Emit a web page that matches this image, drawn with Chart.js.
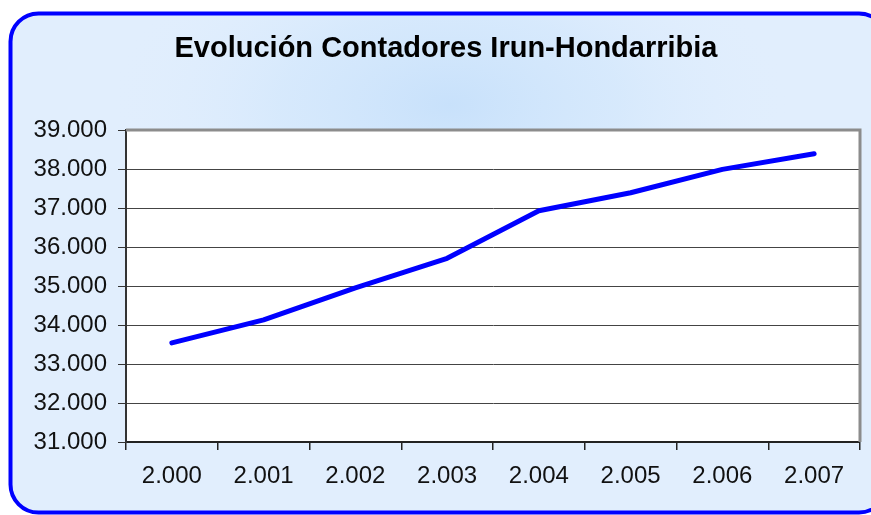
<!DOCTYPE html>
<html lang="es">
<head>
  <meta charset="UTF-8" />
  <title>Evolución Contadores Irun-Hondarribia</title>
  <script src="https://cdn.jsdelivr.net/npm/chart.js"></script>
  <style>
    html, body { margin: 0; padding: 0; background: #fff; }
    canvas { display: block; }
  </style>
</head>
<body>
  <canvas id="grafico" width="871" height="515"></canvas>

  <script>
    const titulo = 'Evolución Contadores Irun-Hondarribia';
    const anios = ['2.000', '2.001', '2.002', '2.003', '2.004', '2.005', '2.006', '2.007'];
    const contadores = [33540, 34130, 34950, 35710, 36930, 37390, 37990, 38390];
    const ejeMin = 31000;
    const ejeMax = 39000;
    const ejePaso = 1000;

    const fuente = '"Liberation Sans", Arial, sans-serif';

    // miles con punto: 31000 -> "31.000"
    function formatoMiles(v) {
      return String(Math.round(v)).replace(/\B(?=(\d{3})+(?!\d))/g, '.');
    }

    // fondo redondeado con borde azul, brillo bajo el titulo y el titulo
    const fondo = {
      id: 'fondo',
      beforeDraw(chart) {
        const ctx = chart.ctx;
        const w = chart.width, h = chart.height;
        ctx.save();
        ctx.fillStyle = '#ffffff';
        ctx.fillRect(0, 0, w, h);

        const x0 = 10.5, y0 = 13.5, x1 = w + 16, y1 = h - 2.5, r = 28;
        ctx.beginPath();
        ctx.moveTo(x0 + r, y0);
        ctx.lineTo(x1 - r, y0);
        ctx.arcTo(x1, y0, x1, y0 + r, r);
        ctx.lineTo(x1, y1 - r);
        ctx.arcTo(x1, y1, x1 - r, y1, r);
        ctx.lineTo(x0 + r, y1);
        ctx.arcTo(x0, y1, x0, y1 - r, r);
        ctx.lineTo(x0, y0 + r);
        ctx.arcTo(x0, y0, x0 + r, y0, r);
        ctx.closePath();

        ctx.fillStyle = '#e1eefd';
        ctx.fill();

        ctx.save();
        ctx.clip();
        ctx.translate(450, 105);
        ctx.scale(1.8, 1);
        const g = ctx.createRadialGradient(0, 0, 0, 0, 0, 190);
        g.addColorStop(0, 'rgba(200, 225, 251, 1)');
        g.addColorStop(0.5, 'rgba(208, 230, 252, 0.6)');
        g.addColorStop(1, 'rgba(225, 238, 253, 0)');
        ctx.fillStyle = g;
        ctx.fillRect(-300, -300, 600, 600);
        ctx.restore();

        ctx.lineWidth = 4;
        ctx.strokeStyle = '#0000ff';
        ctx.stroke();

        ctx.font = 'bold 29px ' + fuente;
        ctx.fillStyle = '#000';
        ctx.textAlign = 'center';
        ctx.textBaseline = 'alphabetic';
        ctx.fillText(titulo, 446, 57);
        ctx.restore();
      }
    };

    // area blanca del grafico
    const areaBlanca = {
      id: 'areaBlanca',
      beforeDraw(chart) {
        const { ctx, chartArea: a } = chart;
        ctx.save();
        ctx.fillStyle = '#ffffff';
        ctx.fillRect(a.left, a.top, a.right - a.left, a.bottom - a.top);
        ctx.restore();
      }
    };

    // marco gris arriba y a la derecha
    const marco = {
      id: 'marco',
      beforeDatasetsDraw(chart) {
        const { ctx, chartArea: a } = chart;
        ctx.save();
        ctx.strokeStyle = '#8c8c8c';
        ctx.lineWidth = 3;
        ctx.beginPath();
        ctx.moveTo(a.left, a.top);
        ctx.lineTo(a.right, a.top);
        ctx.lineTo(a.right, a.bottom);
        ctx.stroke();
        ctx.restore();
      }
    };

    new Chart(document.getElementById('grafico'), {
      type: 'line',
      data: {
        labels: anios,
        datasets: [{
          data: contadores,
          borderColor: '#0000ff',
          borderWidth: 5,
          borderCapStyle: 'round',
          borderJoinStyle: 'round',
          pointRadius: 0,
          tension: 0,
          fill: false
        }]
      },
      options: {
        responsive: false,
        animation: false,
        layout: { padding: { left: 0, top: 130, right: 11, bottom: 0 } },
        plugins: {
          legend: { display: false },
          tooltip: { enabled: false }
        },
        scales: {
          x: {
            offset: true,
            grid: {
              offset: true,
              drawOnChartArea: false,
              tickLength: 8,
              tickColor: '#222',
              lineWidth: 1.5
            },
            border: { color: '#222', width: 2 },
            ticks: {
              color: '#111',
              padding: 12,
              font: { family: fuente, size: 24 }
            },
            afterFit(scale) { scale.height = 73; }
          },
          y: {
            min: ejeMin,
            max: ejeMax,
            grid: {
              color: ctx => ctx.tick && ctx.tick.value === ejeMax ? 'rgba(0,0,0,0)' : '#444',
              lineWidth: 1,
              tickLength: 8,
              tickColor: '#333'
            },
            border: { color: '#333', width: 2 },
            ticks: {
              stepSize: ejePaso,
              color: '#111',
              padding: 11,
              font: { family: fuente, size: 24 },
              callback: v => formatoMiles(v)
            },
            afterFit(scale) { scale.width = 126; }
          }
        }
      },
      plugins: [fondo, areaBlanca, marco]
    });
  </script>
</body>
</html>
